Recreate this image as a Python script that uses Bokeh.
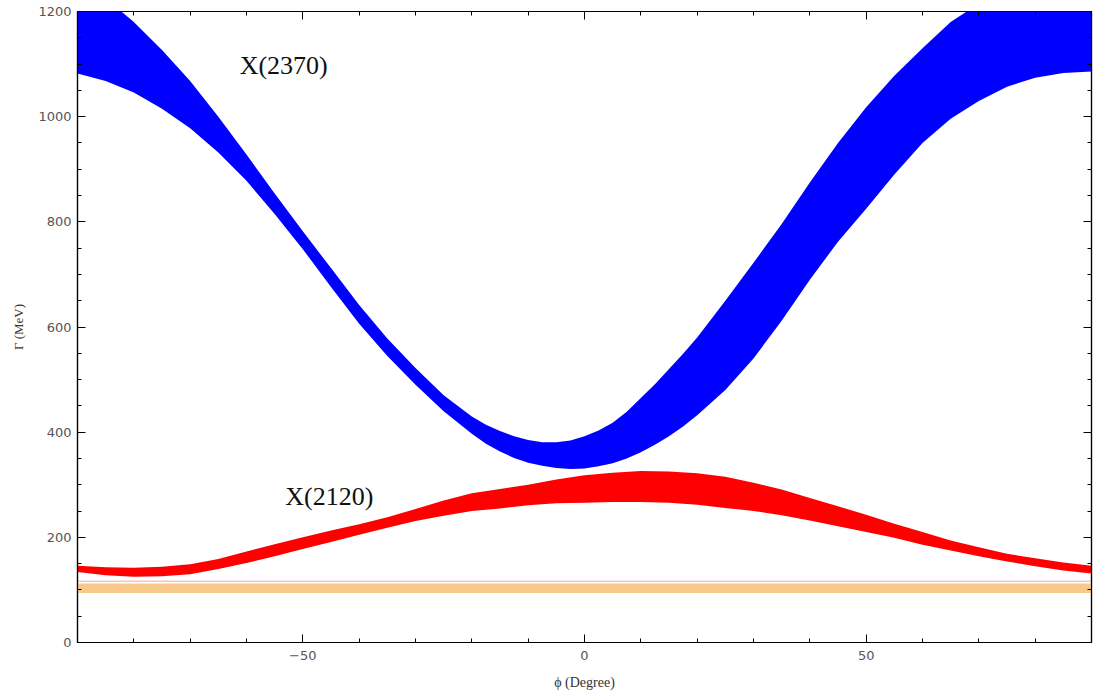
from bokeh.plotting import figure
from bokeh.models import LinearAxis, FixedTicker, Range1d
from bokeh.core.properties import value
from bokeh.embed import file_html
from bokeh.resources import INLINE

# ---- data ----
phi_2370 = [-90, -85, -80, -75, -70, -65, -60, -55, -50, -45, -40, -35, -30, -25, -20,
            -17.5, -15, -12.5, -10, -7.5, -5, -2.5, 0, 2.5, 5, 7.5, 10, 12.5, 15, 17.5,
            20, 25, 30, 35, 40, 45, 50, 55, 60, 65, 70, 75, 80, 85, 90]
x2370_low = [1082, 1068, 1046, 1015, 978, 932, 878, 815, 748, 676, 606, 545, 490, 440, 397,
             378, 363, 351, 342, 336, 332, 330, 331, 335, 341, 350, 362, 376, 392, 411,
             432, 480, 540, 612, 690, 762, 825, 890, 950, 996, 1030, 1057, 1074, 1083, 1086]
x2370_up = [1245, 1225, 1180, 1127, 1068, 1000, 928, 854, 782, 712, 642, 578, 522, 470, 430,
            414, 402, 392, 385, 381, 381, 384, 392, 403, 418, 439, 465, 491, 520, 549,
            580, 650, 722, 796, 875, 950, 1018, 1078, 1130, 1180, 1215, 1238, 1250, 1252, 1250]

phi_2120 = [-90, -85, -80, -75, -70, -65, -60, -55, -50, -45, -40, -35, -30, -25, -20, -15, -10, -5,
            0, 5, 10, 15, 20, 25, 30, 35, 40, 45, 50, 55, 60, 65, 70, 75, 80, 85, 90]
x2120_low = [134, 128, 125, 126, 130, 140, 151, 164, 178, 191, 205, 218, 231, 241, 250, 255, 261, 265,
             266, 267, 267, 266, 262, 256, 250, 242, 232, 221, 210, 199, 186, 175, 164, 154, 145, 137, 131]
x2120_up = [146, 143, 142, 144, 149, 159, 173, 187, 200, 213, 225, 238, 254, 270, 284, 292, 300, 310,
            318, 323, 326, 325, 322, 315, 304, 291, 275, 259, 243, 226, 210, 194, 181, 169, 160, 152, 146]

orange_band = [94, 112]
pink_band = [115, 118]
band_x = [-90, 90]

labels = ["X(2370)", "X(2120)"]
label_x = [-53.4, -45.3]
label_y = [1097, 277]

x_major = [-50, 0, 50]
x_minor = [-90, -80, -70, -60, -40, -30, -20, -10, 10, 20, 30, 40, 60, 70, 80, 90]
y_major = [0, 200, 400, 600, 800, 1000, 1200]
y_minor = [50, 100, 150, 250, 300, 350, 450, 500, 550, 650, 700, 750, 850, 900, 950, 1050, 1100, 1150]

p = figure(width=1094, height=696, output_backend="svg", toolbar_location=None,
           x_range=Range1d(-90, 90), y_range=Range1d(0, 1200),
           min_border_left=77, min_border_right=3, min_border_top=11, min_border_bottom=54)
p.grid.visible = False
p.outline_line_color = "black"
p.outline_line_width = 1.2
p.background_fill_color = "white"
p.border_fill_color = "white"

# bands
p.varea(x=band_x, y1=[orange_band[0]] * 2, y2=[orange_band[1]] * 2, fill_color="#F9C98B")
p.varea(x=band_x, y1=[pink_band[0]] * 2, y2=[pink_band[1]] * 2, fill_color="#F6C3BE")
p.varea(x=phi_2120, y1=x2120_low, y2=x2120_up, fill_color="#FF0000")
p.varea(x=phi_2370, y1=x2370_low, y2=x2370_up, fill_color="#0000FF")

p.text(x=label_x, y=label_y, text=labels, text_font=value("Liberation Serif"),
       text_font_size="26px", text_align="center", text_baseline="middle", text_color="#111111")

minus_over = {v: ("\u2212" + str(abs(v)) if v < 0 else str(v)) for v in x_major}

def style(ax, ticks, minor, show_labels):
    ax.ticker = FixedTicker(ticks=ticks, minor_ticks=minor)
    ax.major_tick_in = 8
    ax.major_tick_out = 0
    ax.minor_tick_in = 4
    ax.minor_tick_out = 0
    ax.major_tick_line_color = "black"
    ax.minor_tick_line_color = "black"
    ax.axis_line_color = "black"
    ax.axis_line_width = 1.2
    ax.major_label_text_font = "DejaVu Sans"
    ax.major_label_text_font_size = "13px"
    ax.major_label_text_color = "#555555"
    if not show_labels:
        ax.major_label_overrides = {t: "" for t in ticks}
        ax.major_label_standoff = 0

xa = p.xaxis[0]
style(xa, x_major, x_minor, True)
xa.major_label_overrides = minus_over
xa.major_label_standoff = 8
xa.axis_label = "\u03d5 (Degree)"
xa.axis_label_text_font = "Liberation Serif"
xa.axis_label_text_font_style = "normal"
xa.axis_label_text_font_size = "14px"
xa.axis_label_text_color = "#333333"
xa.axis_label_standoff = 12

ya = p.yaxis[0]
style(ya, y_major, y_minor, True)
ya.major_label_standoff = 6
ya.axis_label = "\u0393 (MeV)"
ya.axis_label_text_font = "Liberation Serif"
ya.axis_label_text_font_style = "normal"
ya.axis_label_text_font_size = "13px"
ya.axis_label_text_color = "#333333"
ya.axis_label_standoff = 9

top = LinearAxis()
style(top, x_major, x_minor, False)
p.add_layout(top, "above")
right = LinearAxis()
style(right, y_major, y_minor, False)
p.add_layout(right, "right")

open("out.html", "w").write(file_html(p, INLINE))
